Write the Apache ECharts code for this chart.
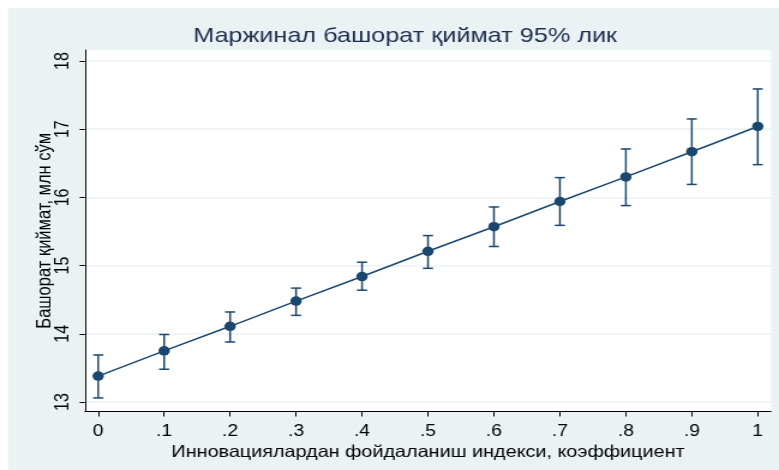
<!DOCTYPE html>
<html>
<head>
<meta charset="utf-8">
<script src="https://cdn.jsdelivr.net/npm/echarts@6/dist/echarts.min.js"></script>
<style>
  html, body { margin: 0; padding: 0; background: #ffffff; overflow: hidden; }
  /* the source graph is stretched sideways, so draw narrower and widen it */
  #main { width: 649px; height: 470px; transform: scaleX(1.2003); transform-origin: 0 0; }
</style>
</head>
<body>
<div id="main"></div>
<script>
// data
var xValues = [0, 0.1, 0.2, 0.3, 0.4, 0.5, 0.6, 0.7, 0.8, 0.9, 1];
var margins = [13.38, 13.75, 14.11, 14.48, 14.84, 15.21, 15.57, 15.94, 16.30, 16.67, 17.04];
var upperCI = [13.69, 13.99, 14.32, 14.67, 15.05, 15.44, 15.86, 16.29, 16.71, 17.15, 17.59];
var lowerCI = [13.06, 13.48, 13.88, 14.27, 14.64, 14.96, 15.28, 15.59, 15.88, 16.19, 16.48];
var xTicks = [0, 0.1, 0.2, 0.3, 0.4, 0.5, 0.6, 0.7, 0.8, 0.9, 1];
var yTicks = [13, 14, 15, 16, 17, 18];

var navy = '#1a476f';
var font = 'Liberation Sans, Arial, sans-serif';

var myChart = echarts.init(document.getElementById('main'), null, { width: 649, height: 470 });

var lineData = xValues.map(function (x, i) { return [x, margins[i]]; });
var ciData = xValues.map(function (x, i) { return [x, lowerCI[i], upperCI[i]]; });

var option = {
    animation: false,
    backgroundColor: '#ffffff',
    graphic: [{
        type: 'rect',
        z: -100,
        shape: { x: 6.67, y: 8, width: 660, height: 462 },
        style: { fill: '#eaf2f3' }
    }],
    title: {
        text: 'Маржинал башорат қиймат 95% лик',
        left: 332.5,
        textAlign: 'center',
        top: 21,
        textStyle: { color: '#1e2d4e', fontSize: 21, fontWeight: 'normal', fontFamily: font }
    },
    grid: {
        left: 70.8, right: 6.7, top: 50, bottom: 58.5,
        show: true, backgroundColor: '#ffffff', borderWidth: 0
    },
    xAxis: {
        type: 'value',
        min: -0.02,
        max: 1.02,
        name: 'Инновациялардан фойдаланиш индекси, коэффициент',
        nameLocation: 'middle',
        nameGap: 32,
        nameMoveOverlap: false,
        nameTextStyle: { color: '#000', fontSize: 16.5, fontFamily: font },
        axisLine: { show: true, onZero: false, lineStyle: { color: '#000', width: 1 } },
        axisTick: { show: true, length: 5, customValues: xTicks, lineStyle: { color: '#000' } },
        axisLabel: {
            customValues: xTicks,
            margin: 12,
            color: '#000', fontSize: 16, fontFamily: font,
            formatter: function (v) {
                if (v === 0) return '0';
                if (v === 1) return '1';
                return String(+v.toFixed(1)).replace(/^0/, '');
            }
        },
        splitLine: { show: false }
    },
    yAxis: {
        type: 'value',
        min: 12.861,
        max: 18.161,
        name: 'Башорат қиймат, млн сўм',
        nameLocation: 'middle',
        nameGap: 25,
        nameMoveOverlap: false,
        nameTextStyle: { color: '#000', fontSize: 16.5, fontFamily: font },
        axisLine: { show: true, onZero: false, lineStyle: { color: '#000', width: 1 } },
        axisTick: { show: true, length: 4.5, customValues: yTicks, lineStyle: { color: '#000' } },
        axisLabel: {
            customValues: yTicks,
            rotate: 90,
            margin: 10,
            color: '#000', fontSize: 16, fontFamily: font
        },
        splitLine: { show: true, lineStyle: { color: '#eaf2f3', width: 1.5 } }
    },
    series: [
        {
            type: 'custom',
            data: ciData,
            z: 2,
            renderItem: function (params, api) {
                var x = api.value(0);
                var lo = api.coord([x, api.value(1)]);
                var hi = api.coord([x, api.value(2)]);
                var hw = 4.2;
                var st = { stroke: navy, lineWidth: 1.5 };
                return {
                    type: 'group',
                    children: [
                        { type: 'line', shape: { x1: lo[0], y1: lo[1], x2: hi[0], y2: hi[1] }, style: st },
                        { type: 'line', shape: { x1: lo[0] - hw, y1: lo[1], x2: lo[0] + hw, y2: lo[1] }, style: st },
                        { type: 'line', shape: { x1: hi[0] - hw, y1: hi[1], x2: hi[0] + hw, y2: hi[1] }, style: st }
                    ]
                };
            }
        },
        {
            type: 'line',
            data: lineData,
            z: 3,
            symbol: 'circle',
            symbolSize: 9.5,
            showAllSymbol: true,
            lineStyle: { color: navy, width: 1.5 },
            itemStyle: { color: navy }
        }
    ]
};

myChart.setOption(option);
</script>
</body>
</html>
